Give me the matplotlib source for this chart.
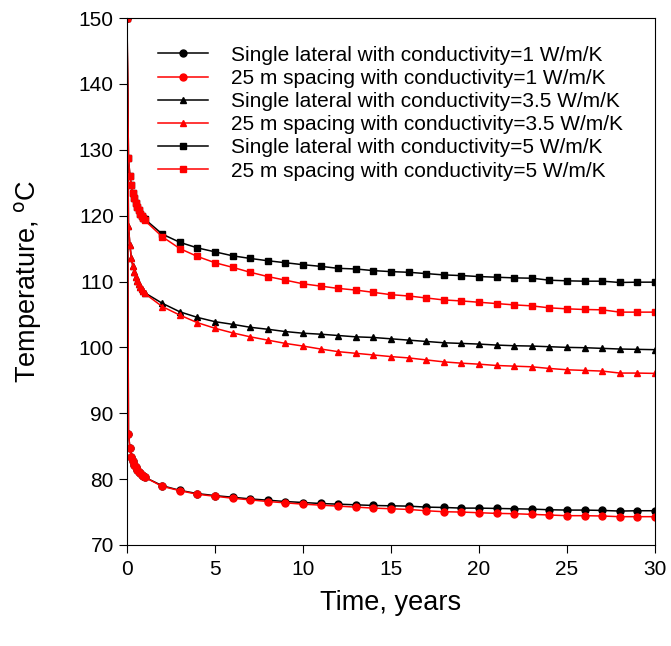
import numpy as np
import matplotlib.pyplot as plt

plt.rcParams['font.family'] = ['Liberation Sans', 'DejaVu Sans']

# time: start, monthly during first year, then yearly
t = [0] + [m / 12 for m in range(1, 13)] + list(range(2, 31))

single_k1 = [150, 86.9, 84.7, 83.4, 82.7, 82.2, 81.8, 81.4, 81.1, 80.9, 80.7, 80.5, 80.3,
             79.0, 78.3, 77.8, 77.5, 77.25, 77.0, 76.8, 76.6, 76.45, 76.3, 76.2, 76.1, 76.0, 75.95,
             75.9, 75.75, 75.7, 75.6, 75.6, 75.55, 75.5, 75.45, 75.35, 75.3, 75.3, 75.25, 75.15, 75.2, 75.2]
spacing_k1 = [150, 86.9, 84.7, 83.4, 82.7, 82.2, 81.8, 81.4, 81.1, 80.9, 80.7, 80.5, 80.3,
              78.9, 78.25, 77.7, 77.4, 77.1, 76.85, 76.6, 76.4, 76.2, 76.05, 75.9, 75.75, 75.6, 75.5,
              75.4, 75.2, 75.05, 75.0, 74.9, 74.8, 74.75, 74.65, 74.55, 74.45, 74.45, 74.4, 74.3, 74.3, 74.3]
single_k35 = [150, 118.4, 115.5, 113.5, 112.3, 111.4, 110.7, 110.1, 109.6, 109.2, 108.8, 108.5, 108.3,
              106.7, 105.4, 104.55, 103.9, 103.5, 103.05, 102.75, 102.4, 102.15, 102.0, 101.8, 101.6, 101.5, 101.3,
              101.1, 100.9, 100.7, 100.6, 100.5, 100.35, 100.25, 100.2, 100.1, 100.0, 99.95, 99.85, 99.75, 99.7, 99.65]
spacing_k35 = [150, 118.4, 115.5, 113.5, 112.3, 111.4, 110.7, 110.1, 109.6, 109.2, 108.8, 108.5, 108.2,
               106.2, 104.9, 103.75, 102.9, 102.2, 101.6, 101.1, 100.6, 100.2, 99.75, 99.35, 99.1, 98.85, 98.6,
               98.4, 98.1, 97.8, 97.6, 97.45, 97.25, 97.15, 97.05, 96.8, 96.6, 96.5, 96.4, 96.1, 96.1, 96.05]
single_k5 = [150, 128.7, 126.0, 124.6, 123.5, 122.6, 121.9, 121.3, 120.8, 120.3, 119.9, 119.7, 119.5,
             117.2, 115.95, 115.1, 114.5, 113.9, 113.5, 113.15, 112.85, 112.55, 112.3, 112.0, 111.9, 111.65, 111.5,
             111.4, 111.2, 111.0, 110.9, 110.75, 110.65, 110.55, 110.5, 110.2, 110.1, 110.05, 110.05, 109.85, 109.9, 109.9]
spacing_k5 = [150, 128.7, 126.0, 124.6, 123.5, 122.6, 121.9, 121.3, 120.8, 120.3, 119.9, 119.6, 119.3,
              116.8, 115.0, 113.8, 112.85, 112.15, 111.4, 110.75, 110.2, 109.65, 109.3, 108.95, 108.7, 108.35, 108.0,
              107.8, 107.5, 107.2, 107.05, 106.85, 106.65, 106.45, 106.3, 106.0, 105.85, 105.75, 105.7, 105.35, 105.35, 105.35]

labels = ['Single lateral with conductivity=1 W/m/K',
          '25 m spacing with conductivity=1 W/m/K',
          'Single lateral with conductivity=3.5 W/m/K',
          '25 m spacing with conductivity=3.5 W/m/K',
          'Single lateral with conductivity=5 W/m/K',
          '25 m spacing with conductivity=5 W/m/K']

fig = plt.figure(figsize=(6.71, 6.46), dpi=100)
ax = fig.add_axes([127 / 671, 101 / 646, 528 / 671, 527 / 646])

ax.plot(t, single_k1, 'k-o', lw=1.1, ms=5, label=labels[0])
ax.plot(t, spacing_k1, '-o', color='red', lw=1.1, ms=5, label=labels[1])
ax.plot(t, single_k35, 'k-^', lw=1.1, ms=5, label=labels[2])
ax.plot(t, spacing_k35, '-^', color='red', lw=1.1, ms=5, label=labels[3])
ax.plot(t, single_k5, 'k-s', lw=1.1, ms=4.5, label=labels[4])
ax.plot(t, spacing_k5, '-s', color='red', lw=1.1, ms=4.5, label=labels[5])

ax.set_xlim(0, 30)
ax.set_ylim(70, 150)
ax.set_xticks(range(0, 31, 5))
ax.set_yticks(range(70, 151, 10))
ax.tick_params(direction='out', length=6, labelsize=15, top=False, right=False)
ax.tick_params(axis='x', pad=5)
ax.set_xlabel('Time, years', fontsize=19.5, labelpad=8)
ax.set_ylabel('Temperature, $^{\\mathrm{o}}$C', fontsize=19.5, labelpad=25)

ax.legend(loc='upper left', bbox_to_anchor=(0.024, 0.983), frameon=False, fontsize=15,
          handlelength=2.4, handletextpad=1.1, labelspacing=0.2)

plt.savefig('out.png', dpi=100)
